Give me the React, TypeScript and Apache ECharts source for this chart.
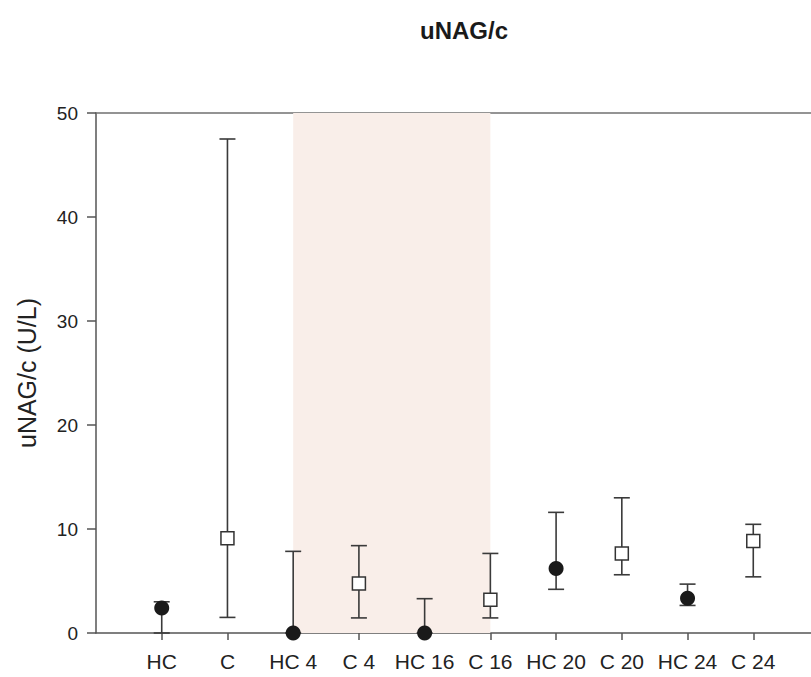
import React, { useEffect, useRef } from "react";
import * as echarts from "echarts";

const categories = ["HC", "C", "HC 4", "C 4", "HC 16", "C 16", "HC 20", "C 20", "HC 24", "C 24"];
const means = [2.4, 9.1, 0, 4.75, 0, 3.2, 6.2, 7.65, 3.35, 8.85];
const lowers = [0, 1.5, 0, 1.45, 0, 1.45, 4.2, 5.6, 2.65, 5.4];
const uppers = [3.0, 47.5, 7.85, 8.4, 3.3, 7.65, 11.6, 13.0, 4.7, 10.45];
const groups = ["HC", "C", "HC", "C", "HC", "C", "HC", "C", "HC", "C"];
const yTicks = [0, 10, 20, 30, 40, 50];
const shadedFrom = "HC 4";
const shadedTo = "C 16";

const axisCats = ["", ...categories, ""];

export default function App() {
  const ref = useRef<HTMLDivElement>(null);
  useEffect(() => {
    document.body.style.margin = "0";
    document.body.style.overflow = "hidden";
    const chart = echarts.init(ref.current!, null, { renderer: "svg" });
    const font = "'Liberation Sans', Arial, sans-serif";
    const axisColor = "#555555";
    const errData = categories.map((c, i) => [c, lowers[i], uppers[i]]);
    const hcData = categories.map((c, i) => (groups[i] === "HC" ? [c, means[i]] : null)).filter(Boolean);
    const cData = categories.map((c, i) => (groups[i] === "C" ? [c, means[i]] : null)).filter(Boolean);
    chart.setOption({
      animation: false,
      title: {
        text: "uNAG/c",
        left: 459,
        top: 13,
        textAlign: "center",
        textStyle: { fontFamily: font, fontSize: 24, fontWeight: "bold", color: "#1a1a1a" },
      },
      grid: { left: 96, top: 113, right: 0, bottom: 44 },
      xAxis: [
        {
          type: "category",
          data: axisCats,
          boundaryGap: false,
          axisLine: { lineStyle: { color: axisColor, width: 1.5 } },
          axisTick: {
            length: 7,
            interval: (idx: number) => idx > 0 && idx < axisCats.length - 1,
            lineStyle: { color: axisColor, width: 1.5 },
          },
          axisLabel: { interval: 0, margin: 18, fontFamily: font, fontSize: 21, color: "#222" },
          splitLine: { show: false },
        },
        {
          type: "category",
          data: axisCats,
          boundaryGap: false,
          position: "top",
          axisLine: { lineStyle: { color: "#707070", width: 1.5 } },
          axisTick: { show: false },
          axisLabel: { show: false },
          splitLine: { show: false },
        },
      ],
      yAxis: {
        type: "value",
        min: yTicks[0],
        max: yTicks[yTicks.length - 1],
        interval: 10,
        name: "uNAG/c (U/L)",
        nameLocation: "middle",
        nameGap: 57,
        nameTextStyle: { fontFamily: font, fontSize: 25, color: "#222" },
        axisLine: { show: true, lineStyle: { color: axisColor, width: 1.5 } },
        axisTick: { show: true, length: 9, lineStyle: { color: axisColor, width: 1.5 } },
        axisLabel: { margin: 18, fontFamily: font, fontSize: 19, color: "#222" },
        splitLine: { show: false },
      },
      series: [
        {
          type: "custom",
          data: errData,
          z: 2,
          markArea: {
            silent: true,
            itemStyle: { color: "#f9eee9" },
            data: [[{ xAxis: shadedFrom }, { xAxis: shadedTo }]],
          },
          renderItem: (params: any, api: any) => {
            const x = api.value(0);
            const lo = api.coord([x, api.value(1)]);
            const hi = api.coord([x, api.value(2)]);
            const hw = 8;
            const style = { stroke: "#3a3a3a", lineWidth: 1.6 };
            return {
              type: "group",
              children: [
                { type: "line", shape: { x1: lo[0], y1: lo[1], x2: hi[0], y2: hi[1] }, style },
                { type: "line", shape: { x1: hi[0] - hw, y1: hi[1], x2: hi[0] + hw, y2: hi[1] }, style },
                { type: "line", shape: { x1: lo[0] - hw, y1: lo[1], x2: lo[0] + hw, y2: lo[1] }, style },
              ],
            };
          },
        },
        {
          type: "scatter",
          data: hcData,
          symbol: "circle",
          symbolSize: 15,
          z: 3,
          itemStyle: { color: "#1a1a1a", opacity: 1 },
        },
        {
          type: "scatter",
          data: cData,
          symbol: "rect",
          symbolSize: 13,
          z: 3,
          itemStyle: { color: "#ffffff", borderColor: "#333", borderWidth: 1.5, opacity: 1 },
        },
      ],
    });
    return () => chart.dispose();
  }, []);
  return <div ref={ref} style={{ width: 822, height: 677 }} />;
}
